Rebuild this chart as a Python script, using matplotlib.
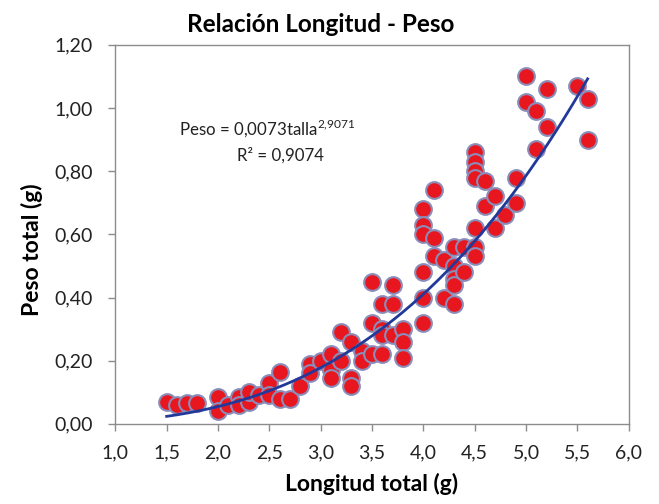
import matplotlib
matplotlib.use("Agg")
import matplotlib.pyplot as plt
import numpy as np
from matplotlib.ticker import FuncFormatter, MultipleLocator

plt.rcParams['font.family'] = ['Lato', 'DejaVu Sans']
plt.rcParams['mathtext.fontset'] = 'custom'
plt.rcParams['mathtext.rm'] = 'Lato'

longitud = [1.5, 1.6, 1.7, 1.8, 2.0, 2.0, 2.1, 2.2, 2.2, 2.3, 2.3, 2.4, 2.5, 2.5,
            2.6, 2.6, 2.7, 2.8, 2.9, 2.9, 3.0, 3.1, 3.1, 3.1, 3.2, 3.2, 3.3, 3.3,
            3.3, 3.4, 3.4, 3.5, 3.5, 3.5, 3.6, 3.6, 3.6, 3.6, 3.7, 3.7, 3.7, 3.8,
            3.8, 3.8, 4.0, 4.0, 4.0, 4.0, 4.0, 4.0, 4.1, 4.1, 4.1, 4.2, 4.2, 4.3,
            4.3, 4.3, 4.3, 4.3, 4.4, 4.4, 4.5, 4.5, 4.5, 4.5, 4.5, 4.5, 4.5, 4.6,
            4.6, 4.7, 4.7, 4.8, 4.9, 4.9, 5.0, 5.0, 5.1, 5.1, 5.2, 5.2, 5.5, 5.6,
            5.6]
peso = [0.07, 0.06, 0.065, 0.065, 0.085, 0.04, 0.06, 0.085, 0.06, 0.07, 0.10, 0.09, 0.13, 0.09,
        0.165, 0.08, 0.08, 0.12, 0.19, 0.16, 0.20, 0.22, 0.17, 0.145, 0.29, 0.20, 0.26, 0.145,
        0.12, 0.23, 0.20, 0.45, 0.32, 0.22, 0.38, 0.30, 0.28, 0.22, 0.44, 0.38, 0.28, 0.30,
        0.26, 0.21, 0.68, 0.63, 0.60, 0.48, 0.40, 0.32, 0.74, 0.59, 0.53, 0.52, 0.40, 0.56,
        0.50, 0.46, 0.44, 0.38, 0.56, 0.48, 0.86, 0.83, 0.80, 0.78, 0.62, 0.56, 0.53, 0.77,
        0.69, 0.72, 0.62, 0.66, 0.78, 0.70, 1.10, 1.02, 0.99, 0.87, 1.06, 0.94, 1.07, 1.03,
        0.90]

coef_a = 0.0073
coef_b = 2.9071
r2 = 0.9074

fig = plt.figure(figsize=(6.59, 5.04), dpi=100)
ax = fig.add_axes([0.175, 0.159, 0.779, 0.752])

ax.scatter(longitud, peso, s=145, facecolor='#E8161E', edgecolor='#8A8DBA',
           linewidths=1.5, zorder=2)

xf = np.linspace(min(longitud), max(longitud), 200)
ax.plot(xf, coef_a * xf ** coef_b, color='#23399A', lw=2.0, zorder=3)

ax.set_xlim(1.0, 6.0)
ax.set_ylim(0.0, 1.2)
ax.xaxis.set_major_locator(MultipleLocator(0.5))
ax.yaxis.set_major_locator(MultipleLocator(0.2))
ax.xaxis.set_major_formatter(FuncFormatter(lambda v, p: f"{v:.1f}".replace('.', ',')))
ax.yaxis.set_major_formatter(FuncFormatter(lambda v, p: f"{v:.2f}".replace('.', ',')))

for s in ax.spines.values():
    s.set_color('#8C8C8C')
    s.set_linewidth(1.0)
ax.tick_params(direction='out', length=5, width=1, color='#8C8C8C',
               labelsize=14, labelcolor='#222222')
ax.tick_params(axis='y', pad=11)
ax.tick_params(axis='x', pad=10)

fig.text(0.487, 0.951, 'Relación Longitud - Peso', fontsize=17.5, fontweight='bold',
         ha='center', va='center')
ax.set_xlabel('Longitud total (g)', fontsize=16.5, fontweight='bold', labelpad=8)
ax.set_ylabel('Peso total (g)', fontsize=16.5, fontweight='bold')
ax.yaxis.set_label_coords(-0.14, 0.46)

ax.text(2.48, 0.935, 'Peso = 0,0073talla$^{\\mathregular{2{,}9071}}$', fontsize=12.2,
        ha='center', va='center', color='#222222')
ax.text(2.61, 0.85, 'R² = 0,9074', fontsize=12.2, ha='center', va='center', color='#222222')

fig.savefig('out.png', dpi=100)
